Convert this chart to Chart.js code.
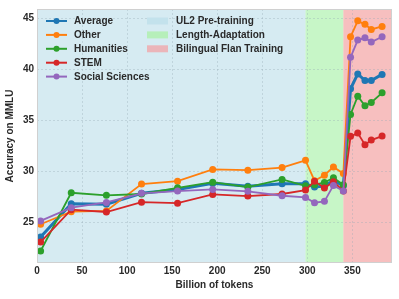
<!DOCTYPE html>
<html>
<head>
<meta charset="utf-8">
<script src="https://cdn.jsdelivr.net/npm/chart.js@4.4.1/dist/chart.umd.min.js"></script>
<style>
  html, body { margin: 0; padding: 0; background: #fff; }
  #wrap { width: 399px; height: 299px; }
</style>
</head>
<body>
<div id="wrap"><canvas id="mmluChart"></canvas></div>
<script>
// billions of tokens at each checkpoint
var tokens = [4, 38, 77, 116, 156, 195, 234, 272, 298, 308, 319, 329, 340, 348, 356, 364, 371, 383];

var average   = [23.6, 26.85, 26.8, 27.87, 28.25, 28.84, 28.57, 28.8, 28.8, 28.48, 28.57, 29.13, 28.6, 38.1, 39.55, 38.9, 38.9, 39.5];
var other     = [24.84, 26.07, 26.14, 28.77, 29.06, 30.2, 30.13, 30.39, 31.1, 29.1, 29.64, 30.45, 29.8, 43.18, 44.74, 44.4, 43.9, 44.2];
var humanities = [22.22, 27.92, 27.67, 27.8, 28.4, 28.96, 28.48, 29.23, 28.6, 28.7, 28.93, 29.38, 28.7, 35.58, 37.37, 36.43, 36.75, 37.7];
var stem      = [23.1, 26.27, 26.04, 27.0, 26.9, 27.76, 27.6, 27.8, 28.18, 29.06, 28.38, 29.0, 28.1, 33.44, 33.76, 32.63, 33.08, 33.47];
var social    = [25.17, 26.46, 26.98, 27.87, 28.09, 28.25, 28.06, 27.63, 27.47, 26.95, 27.08, 28.64, 28.09, 41.17, 42.86, 43.08, 42.66, 43.18];

var seriesNames = ["Average", "Other", "Humanities", "STEM", "Social Sciences"];
var seriesData = [average, other, humanities, stem, social];
var seriesColors = ["#1f77b4", "#ff7f0e", "#2ca02c", "#d62728", "#9467bd"];

// training phases
var phaseNames = ["UL2 Pre-training", "Length-Adaptation", "Bilingual Flan Training"];
var phaseStart = [0, 298, 340];
var phaseEnd   = [298, 340, 394];
var phaseColors = ["rgba(173,216,230,0.5)", "rgba(144,238,144,0.5)", "rgba(240,128,128,0.5)"];
var phaseLegendColors = ["#c3e2ec", "#b6efba", "#ebb5b9"];

var yTicks = [25, 30, 35, 40, 45];
var xTicks = [0, 50, 100, 150, 200, 250, 300, 350];

var FONT = "'Liberation Sans', Arial, sans-serif";

var datasets = seriesNames.map(function(name, i) {
    return {
        label: name,
        data: tokens.map(function(t, j) { return { x: t, y: seriesData[i][j] }; }),
        borderColor: seriesColors[i],
        backgroundColor: seriesColors[i],
        borderWidth: i === 0 ? 3 : 1.8,
        pointRadius: 3.5,
        pointBorderWidth: 0,
        pointHoverRadius: 3.5,
        fill: false,
        tension: 0,
        order: seriesNames.length - i // later series on top, like matplotlib
    };
});

// shaded training phases behind everything
var phasePlugin = {
    id: 'phases',
    beforeDraw: function(chart) {
        var ctx = chart.ctx, area = chart.chartArea, x = chart.scales.x;
        ctx.save();
        ctx.fillStyle = '#fff';
        ctx.fillRect(area.left, area.top, area.right - area.left, area.bottom - area.top);
        phaseStart.forEach(function(s, i) {
            var x0 = Math.max(x.getPixelForValue(s), area.left);
            var x1 = Math.min(x.getPixelForValue(phaseEnd[i]), area.right);
            ctx.fillStyle = phaseColors[i];
            ctx.fillRect(x0, area.top, x1 - x0, area.bottom - area.top);
        });
        ctx.restore();
    },
    afterDraw: function(chart) {
        var ctx = chart.ctx, area = chart.chartArea;
        ctx.save();
        ctx.strokeStyle = '#d0d0d0';
        ctx.lineWidth = 1;
        ctx.strokeRect(area.left + 0.5, area.top + 0.5, area.right - area.left - 1, area.bottom - area.top - 1);
        ctx.restore();
    }
};

// two-column legend inside the plot
var legendPlugin = {
    id: 'twoColLegend',
    afterDatasetsDraw: function(chart) {
        var ctx = chart.ctx;
        var rowY = 21, rowH = 13.9;
        ctx.save();
        ctx.font = "bold 10px " + FONT;
        ctx.textBaseline = 'middle';
        ctx.textAlign = 'left';
        seriesNames.forEach(function(name, i) {
            var y = rowY + i * rowH;
            ctx.strokeStyle = seriesColors[i];
            ctx.lineWidth = 2;
            ctx.beginPath();
            ctx.moveTo(46, y);
            ctx.lineTo(67, y);
            ctx.stroke();
            ctx.fillStyle = seriesColors[i];
            ctx.beginPath();
            ctx.arc(56.5, y, 3, 0, Math.PI * 2);
            ctx.fill();
            ctx.fillStyle = '#2a2a2a';
            ctx.fillText(name, 74, y + 0.5);
        });
        phaseNames.forEach(function(name, i) {
            var y = rowY + i * rowH;
            ctx.fillStyle = phaseLegendColors[i];
            ctx.fillRect(147, y - 3.5, 21, 7);
            ctx.fillStyle = '#2a2a2a';
            ctx.fillText(name, 176, y + 0.5);
        });
        ctx.restore();
    }
};

var gridOpts = {
    color: 'rgba(150,170,180,0.35)',
    lineWidth: 1,
    drawTicks: false
};

new Chart(document.getElementById('mmluChart'), {
    type: 'line',
    data: { datasets: datasets },
    options: {
        responsive: true,
        maintainAspectRatio: false,
        animation: false,
        layout: { padding: { top: 8, right: 7, left: 0, bottom: 0 } },
        plugins: {
            legend: { display: false },
            tooltip: { enabled: false }
        },
        scales: {
            x: {
                type: 'linear',
                min: 0,
                max: 394,
                grid: gridOpts,
                border: { display: false, dash: [2, 2] },
                afterFit: function(s) { s.height = 36; },
                afterBuildTicks: function(s) { s.ticks = xTicks.map(function(v) { return { value: v }; }); },
                ticks: {
                    padding: 2,
                    color: '#2a2a2a',
                    font: { family: FONT, size: 10, weight: 'bold' },
                    maxRotation: 0
                },
                title: {
                    display: true,
                    text: 'Billion of tokens',
                    color: '#2a2a2a',
                    font: { family: FONT, size: 10, weight: 'bold' },
                    padding: { top: 0, bottom: 8 }
                }
            },
            y: {
                min: 21.05,
                max: 45.9,
                grid: gridOpts,
                border: { display: false, dash: [2, 2] },
                afterFit: function(s) { s.width = 37; },
                afterBuildTicks: function(s) { s.ticks = yTicks.map(function(v) { return { value: v }; }); },
                ticks: {
                    padding: 3,
                    color: '#2a2a2a',
                    font: { family: FONT, size: 10, weight: 'bold' }
                },
                title: {
                    display: true,
                    text: 'Accuracy on MMLU',
                    color: '#2a2a2a',
                    font: { family: FONT, size: 10, weight: 'bold' },
                    padding: { top: 4, bottom: 0 }
                }
            }
        }
    },
    plugins: [phasePlugin, legendPlugin]
});
</script>
</body>
</html>
